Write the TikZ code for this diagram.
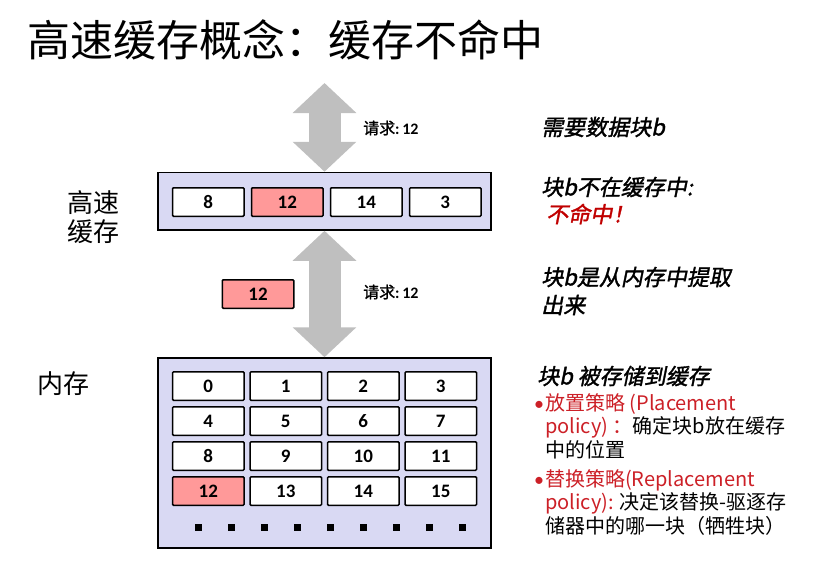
\documentclass[tikz,border=0pt]{standalone}
\usepackage{fontspec}
\setmainfont{Carlito}
\newfontfamily\cjk{Noto Sans CJK SC}
\newfontfamily\cjkbf[FakeBold=1.5]{Noto Sans CJK SC}
\newfontfamily\cjkbfit[FakeBold=1.5,FakeSlant=0.2]{Noto Sans CJK SC}
\usepackage{xcolor}
\usepackage{tikz}
\usetikzlibrary{arrows.meta, positioning}

\definecolor{framefill}{RGB}{217,217,243}
\definecolor{hitred}{RGB}{255,153,153}
\definecolor{arrowgray}{RGB}{191,191,191}
\definecolor{missred}{RGB}{192,0,0}
\definecolor{policyred}{RGB}{204,32,39}

\begin{document}
\begin{tikzpicture}[x=1pt, y=-1pt]
    \tikzstyle{frame} = [rectangle, draw=black, line width=1.5pt, fill=framefill,
                         minimum width=333pt, inner sep=0pt]
    \tikzstyle{blk} = [rectangle, rounded corners=1pt, draw=black, line width=1.5pt,
                       fill=white, minimum width=71.5pt, minimum height=28.5pt,
                       inner sep=0pt, font=\fontsize{19}{19}\selectfont\bfseries]
    \tikzstyle{hit} = [blk, fill=hitred]
    \tikzstyle{dot} = [rectangle, fill=black, minimum size=7pt, inner sep=0pt]
    \tikzstyle{bigarr} = [draw=arrowgray, line width=32pt,
                          {Triangle[width=62pt,length=30pt]}-{Triangle[width=62pt,length=30pt]}]
    \tikzstyle{req} = [anchor=west, inner sep=0pt, font=\fontsize{16}{16}\selectfont\cjkbf]
    \tikzstyle{note} = [anchor=west, inner sep=0pt, align=left,
                        font=\fontsize{22}{28}\selectfont\cjkbfit]

    \useasboundingbox (0,0) rectangle (816,571);

    \node (title) [anchor=west, inner sep=0pt, font=\fontsize{43}{43}\selectfont\cjk]
          at (27,40) {高速缓存概念：缓存不命中};

    % cache
    \node (cache) [frame, minimum height=57.5pt] at (324.5,201.25) {};
    \node (c0) [blk] at (208.3,202) {8};
    \node (c1) [hit, right=6pt of c0] {12};
    \node (c2) [blk, right=6pt of c1] {14};
    \node (c3) [blk, right=6pt of c2] {3};

    % memory
    \node (mem) [frame, minimum height=190pt] at (324.5,453) {};
    \foreach \n in {0,...,15} {
        \pgfmathtruncatemacro\col{mod(\n,4)}
        \pgfmathtruncatemacro\row{div(\n,4)}
        \ifnum\n=12 \def\fc{hitred}\else\def\fc{white}\fi
        \node (m\n) [blk, fill=\fc] at (208.3+77.5*\col, 386+35*\row) {\n};
    }
    \foreach \i in {0,...,8}
        \node (d\i) [dot] at (198+33*\i, 527) {};

    \node (fetched) [hit] at (258,294) {12};

    % requests
    \coordinate (reqtop) at (324.5,83);
    \draw[bigarr] (reqtop) -- (cache.north);
    \draw[bigarr] (cache.south) -- (mem.north);
    \node (req1) [req] at (363,128) {请求{\rmfamily\bfseries :\,12}};
    \node (req2) [req] at (363,292) {请求{\rmfamily\bfseries :\,12}};

    % left labels
    \node (lcache) [align=center, inner sep=0pt, font=\fontsize{26}{29}\selectfont\cjk]
          at (93,217) {高速\\缓存};
    \node (lmem) [inner sep=0pt, font=\fontsize{26}{29}\selectfont\cjk] at (63,384) {内存};

    % notes
    \node (need)  [note] at (541,127) {需要数据块b};
    \node (miss)  [note] at (541,187) {块b不在缓存中:};
    \node (nohit) [note, text=missred] at (546,214) {不命中！};
    \node (fetch) [note] at (541,291) {块b是从内存中提取\\出来};
    \node (store) [note] at (537,376) {块b 被存储到缓存};
    \node (policy) [anchor=west, inner sep=0pt, align=left,
                    font=\fontsize{20}{23.5}\selectfont\cjk] at (534,464.5)
          {\textcolor{policyred}{\makebox[11pt][l]{\rmfamily •}放置策略 (Placement}\\
           \hspace*{11pt}\textcolor{policyred}{policy) ：}确定块b放在缓存\\
           \hspace*{11pt}中的位置\\[5.5pt]
           \textcolor{policyred}{\makebox[11pt][l]{\rmfamily •}替换策略(Replacement}\\
           \hspace*{11pt}\textcolor{policyred}{policy):} 决定该替换-驱逐存\\
           \hspace*{11pt}储器中的哪一块（牺牲块）};
\end{tikzpicture}
\end{document}
